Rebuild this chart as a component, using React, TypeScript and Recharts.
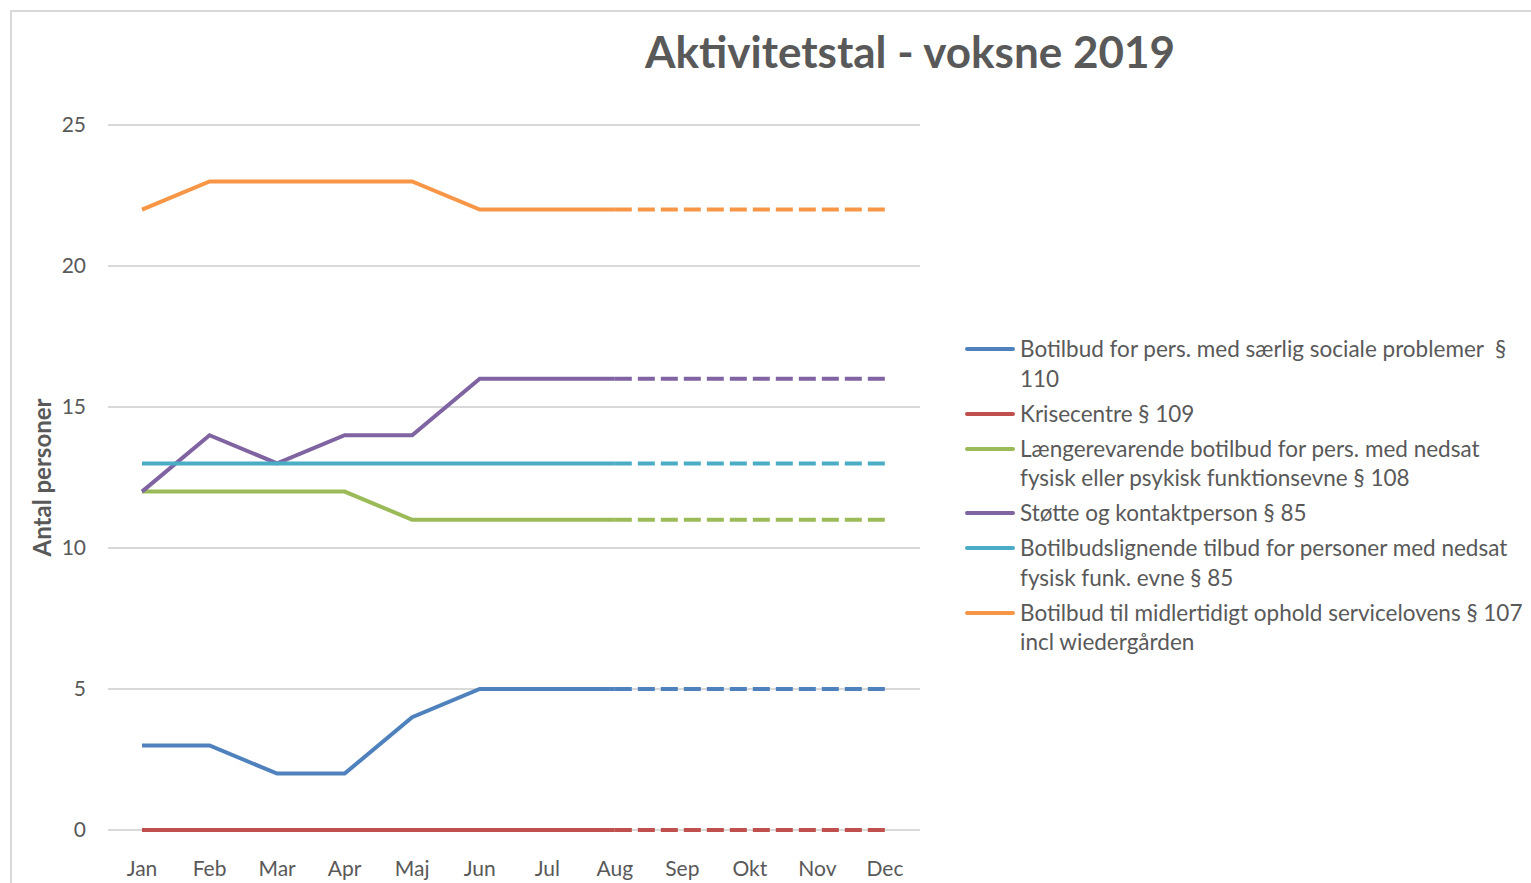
import { LineChart, Line, XAxis, YAxis, CartesianGrid } from 'recharts';

const months = ['Jan', 'Feb', 'Mar', 'Apr', 'Maj', 'Jun', 'Jul', 'Aug', 'Sep', 'Okt', 'Nov', 'Dec'];
const yTicks = [0, 5, 10, 15, 20, 25];

// last month with actual numbers; later months are projected (dashed)
const lastActual = 7;

const botilbud110 = [3, 3, 2, 2, 4, 5, 5, 5, 5, 5, 5, 5];
const krisecentre109 = [0, 0, 0, 0, 0, 0, 0, 0, 0, 0, 0, 0];
const laengere108 = [12, 12, 12, 12, 11, 11, 11, 11, 11, 11, 11, 11];
const stoette85 = [12, 14, 13, 14, 14, 16, 16, 16, 16, 16, 16, 16];
const botilbudslignende85 = [13, 13, 13, 13, 13, 13, 13, 13, 13, 13, 13, 13];
const midlertidigt107 = [22, 23, 23, 23, 23, 22, 22, 22, 22, 22, 22, 22];

const series = [
  { key: 's110', values: botilbud110, color: '#4f81bd', lines: ['Botilbud for pers. med særlig sociale problemer  §', '110'] },
  { key: 's109', values: krisecentre109, color: '#c0504d', lines: ['Krisecentre § 109'] },
  { key: 's108', values: laengere108, color: '#9bbb59', lines: ['Længerevarende botilbud for pers. med nedsat', 'fysisk eller psykisk funktionsevne § 108'] },
  { key: 's85a', values: stoette85, color: '#8064a2', lines: ['Støtte og kontaktperson § 85'] },
  { key: 's85b', values: botilbudslignende85, color: '#4bacc6', lines: ['Botilbudslignende tilbud for personer med nedsat', 'fysisk funk. evne § 85'] },
  { key: 's107', values: midlertidigt107, color: '#f79646', lines: ['Botilbud til midlertidigt ophold servicelovens § 107', 'incl wiedergården'] },
];

const data = months.map((m, i) => {
  const row: any = { month: m };
  series.forEach((s) => {
    row[s.key + '_a'] = i <= lastActual ? s.values[i] : null;
    row[s.key + '_p'] = i >= lastActual ? s.values[i] : null;
  });
  return row;
});

const textColor = '#595959';
const font = 'Lato, "Open Sans", sans-serif';

export default function App() {
  return (
    <div style={{ position: 'absolute', left: 0, top: 0, width: 1531, height: 883, overflow: 'hidden', background: '#fff', fontFamily: font }}>
      <div style={{ position: 'absolute', left: 10, top: 10, width: 1600, height: 1000, border: '2px solid #d9d9d9', boxSizing: 'border-box' }} />
      <div style={{ position: 'absolute', left: 500, width: 820, top: 25, textAlign: 'center', fontSize: 44, fontWeight: 700, color: textColor, whiteSpace: 'nowrap' }}>
        Aktivitetstal - voksne 2019
      </div>
      <div style={{ position: 'absolute', left: 0, top: 0 }}>
        <LineChart width={1531} height={883} data={data} margin={{ top: 125, right: 611, bottom: 0, left: 0 }}>
          <CartesianGrid vertical={false} stroke="#d9d9d9" strokeWidth={2} />
          <XAxis
            dataKey="month"
            height={53}
            padding={{ left: 34, right: 35 }}
            axisLine={false}
            tickLine={false}
            tickMargin={25}
            tick={{ fill: textColor, fontSize: 21, fontFamily: font }}
          />
          <YAxis
            width={108}
            domain={[0, 25]}
            ticks={yTicks}
            axisLine={false}
            tickLine={false}
            tickMargin={16}
            tick={{ fill: textColor, fontSize: 21, fontFamily: font }}
            label={{ value: 'Antal personer', angle: -90, position: 'insideLeft', offset: 42, style: { fill: textColor, fontSize: 24, fontWeight: 700, fontFamily: font, textAnchor: 'middle' } }}
          />
          {series.map((s) => (
            <Line
              key={s.key + '_a'}
              dataKey={s.key + '_a'}
              stroke={s.color}
              strokeWidth={4}
              dot={false}
              activeDot={false}
              isAnimationActive={false}
              connectNulls={false}
            />
          ))}
          {series.map((s) => (
            <Line
              key={s.key + '_p'}
              dataKey={s.key + '_p'}
              stroke={s.color}
              strokeWidth={4}
              strokeDasharray="17 6"
              dot={false}
              activeDot={false}
              isAnimationActive={false}
              connectNulls={false}
            />
          ))}
        </LineChart>
      </div>
      <div style={{ position: 'absolute', left: 965, top: 334, color: textColor, fontSize: 22.5, lineHeight: '29.5px' }}>
        {series.map((s) => (
          <div key={s.key} style={{ display: 'flex', alignItems: 'flex-start', marginBottom: 5.5 }}>
            <div style={{ width: 50, height: 4, background: s.color, borderRadius: 2, marginTop: 13, marginRight: 5, flexShrink: 0 }} />
            <div style={{ whiteSpace: 'pre' }}>
              {s.lines.map((l, i) => (
                <div key={i}>{l}</div>
              ))}
            </div>
          </div>
        ))}
      </div>
    </div>
  );
}
